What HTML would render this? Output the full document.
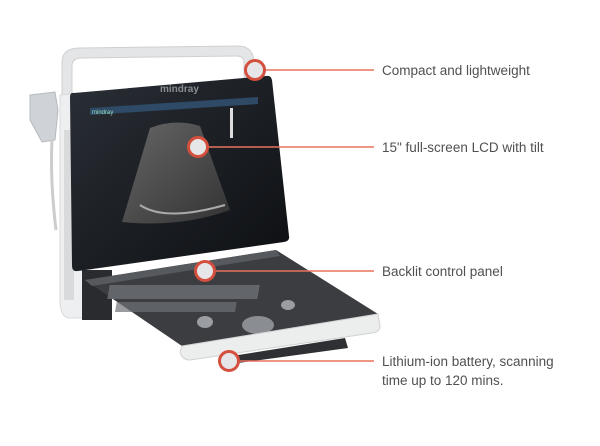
<!DOCTYPE html>
<html><head><meta charset="utf-8"><style>
body{margin:0;background:#fff;}
svg{display:block;}
text{font-family:"Liberation Sans",sans-serif;font-size:13.5px;fill:#505050;}
</style></head><body>
<svg width="600" height="446" viewBox="0 0 600 446">
<defs>
<linearGradient id="scr" x1="0" y1="0" x2="1" y2="1"><stop offset="0" stop-color="#2a2f36"/><stop offset="1" stop-color="#0d0f12"/></linearGradient>
<linearGradient id="fan" x1="0" y1="0" x2="1" y2="1"><stop offset="0" stop-color="#666"/><stop offset="1" stop-color="#333"/></linearGradient>
</defs>
<path d="M62,98 L62,62 Q62,48 80,48 L238,46 Q252,46 254,60 L254,80 L244,80 L244,62 Q244,56 236,56 L82,58 Q72,58 72,66 L72,98 Z" fill="#e4e5e6" stroke="#cfd0d2"/>
<path d="M60,95 L92,92 L92,318 L70,318 Q60,318 60,300 Z" fill="#eeeff0" stroke="#d8d9db"/>
<rect x="64" y="130" width="10" height="170" fill="#d9dadc"/>
<rect x="82" y="270" width="30" height="50" fill="#2a2b2e"/>
<path d="M30,95 L55,92 L58,110 L55,140 L42,142 L30,120 Z" fill="#cfd3d8" stroke="#b5b9be"/>
<path d="M52,140 Q50,180 56,230" stroke="#ccc" stroke-width="3" fill="none"/>
<path d="M74,93 Q70,92 70,97 L72,266 Q72,272 78,271 L284,242 Q290,241 289,236 L272,80 Q271,75 266,76 Z" fill="url(#scr)"/>
<text x="160" y="92" style="font-size:10px;fill:#8a8d92;font-weight:bold">mindray</text>
<path d="M90,108 L258,97 L258,104 L90,115 Z" fill="#2e4a66"/>
<text x="92" y="114" style="font-size:6px;fill:#9db">mindray</text>
<path d="M150,128 Q175,118 200,126 L230,210 Q180,228 122,222 Z" fill="url(#fan)"/>
<path d="M140,205 Q165,222 225,205" stroke="#aaa" stroke-width="2" fill="none"/>
<rect x="230" y="108" width="3" height="30" fill="#ddd"/>
<path d="M85,280 L276,250 L378,314 L182,346 Z" fill="#3b3d41"/>
<path d="M85,280 L276,250 L280,256 L92,286 Z" fill="#56595e"/>
<g fill="#6d7075">
<rect x="110" y="285" width="150" height="14" transform="skewX(-10) translate(50,0)" opacity="0.8"/>
<rect x="120" y="302" width="120" height="10" transform="skewX(-10) translate(50,0)" opacity="0.7"/>
</g>
<ellipse cx="258" cy="325" rx="16" ry="9" fill="#8a8d92"/>
<ellipse cx="205" cy="322" rx="8" ry="6" fill="#9a9da2"/>
<ellipse cx="288" cy="305" rx="7" ry="5" fill="#9a9da2"/>
<path d="M182,346 L378,314 L380,326 Q380,332 372,333 L190,360 Q182,360 180,352 Z" fill="#eceded" stroke="#d0d1d3"/>
<path d="M232,356 L345,338 L348,348 L238,363 Z" fill="#2f3033"/>
<g stroke="#e8735f" stroke-width="1.5">
<line x1="255" y1="70" x2="374" y2="70"/>
<line x1="198" y1="147" x2="374" y2="147"/>
<line x1="205" y1="271" x2="374" y2="271"/>
<line x1="229" y1="361" x2="374" y2="361"/>
</g>
<g fill="#e6e6e8" stroke="#d4503e" stroke-width="3">
<circle cx="255" cy="70" r="9.5"/>
<circle cx="198" cy="147" r="9.5"/>
<circle cx="205" cy="271" r="9.5"/>
<circle cx="229" cy="361" r="9.5"/>
</g>
<text x="382" y="75">Compact and lightweight</text>
<text x="382" y="152">15" full-screen LCD with tilt</text>
<text x="382" y="276">Backlit control panel</text>
<text x="382" y="366">Lithium-ion battery, scanning</text>
<text x="382" y="385">time up to 120 mins.</text>
</svg>
</body></html>
